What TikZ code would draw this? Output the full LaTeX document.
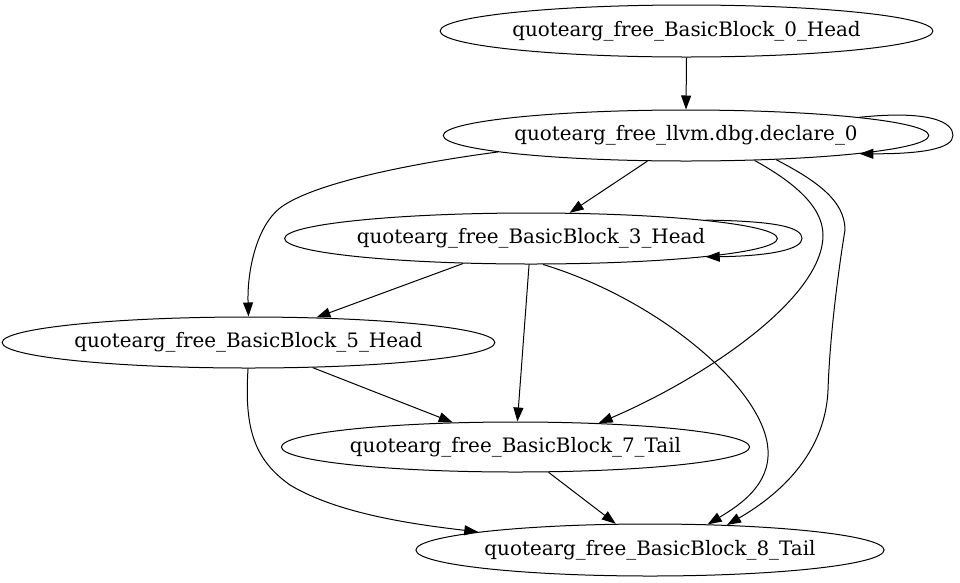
\documentclass[tikz,border=0pt]{standalone}
\usepackage{fontspec}
\setmainfont{DejaVu Serif}
\usetikzlibrary{shapes.geometric,arrows.meta}
\begin{document}
\begin{tikzpicture}[x=1pt,y=-1pt,
  bb/.style={draw,ellipse,inner sep=0pt,line width=1pt,font=\fontsize{19.9}{22}\selectfont},
  edge/.style={line width=1pt,-{Triangle[length=14pt,width=10pt]}}]
\useasboundingbox (0,0) rectangle (960,582);
\node[bb,minimum width=487pt,minimum height=52pt] (n0) at (686.5,31) {quotearg\_free\_BasicBlock\_0\_Head};
\node[bb,minimum width=484pt,minimum height=51pt] (n1) at (686,135.5) {quotearg\_free\_llvm.dbg.declare\_0};
\node[bb,minimum width=484pt,minimum height=51pt] (n3) at (531,238.5) {quotearg\_free\_BasicBlock\_3\_Head};
\node[bb,minimum width=487pt,minimum height=51pt] (n5) at (248.5,342.5) {quotearg\_free\_BasicBlock\_5\_Head};
\node[bb,minimum width=465pt,minimum height=50pt] (n7) at (515.5,447) {quotearg\_free\_BasicBlock\_7\_Tail};
\node[bb,minimum width=466pt,minimum height=52pt] (n8) at (650,550) {quotearg\_free\_BasicBlock\_8\_Tail};
% straight edges
\draw[edge] (n0.south) -- (n1.north);
\draw[edge] (n1) -- (n3);
\draw[edge] (n3) -- (n5);
\draw[edge] (n3) -- (n7);
\draw[edge] (n5) -- (n7);
\draw[edge] (n7) -- (n8);
% self loops
\draw[edge] (n1.6.5) .. controls (930,110) and (953,122) .. (953,135.5) .. controls (953,149) and (920,154) .. (n1.-6.5);
\draw[edge] (n3.6.4) .. controls (780,221) and (802,228) .. (802,238.5) .. controls (802,249) and (772,256) .. (n3.-6.4);
% curved edges
\draw[edge] (n1.-175.2) .. controls (400,165) and (310,185) .. (280,208) .. controls (257,226) and (247,270) .. (n5.north);
\draw[edge] (n1.-20.1) .. controls (790,180) and (823,205) .. (823,235) .. controls (823,300) and (700,380) .. (n7.16.5);
\draw[edge] (n1.-15.9) .. controls (815,180) and (845,200) .. (845,230) .. controls (840,260) and (830,330) .. (828,390) .. controls (825,460) and (770,500) .. (n8.18.7);
\draw[edge] (n3.-65.2) .. controls (660,300) and (765,390) .. (768,450) .. controls (770,485) and (740,505) .. (n8.24.7);
\draw[edge] (n5.269) .. controls (244,430) and (255,460) .. (290,485) .. controls (340,515) and (420,525) .. (n8.174.3);
\end{tikzpicture}
\end{document}
